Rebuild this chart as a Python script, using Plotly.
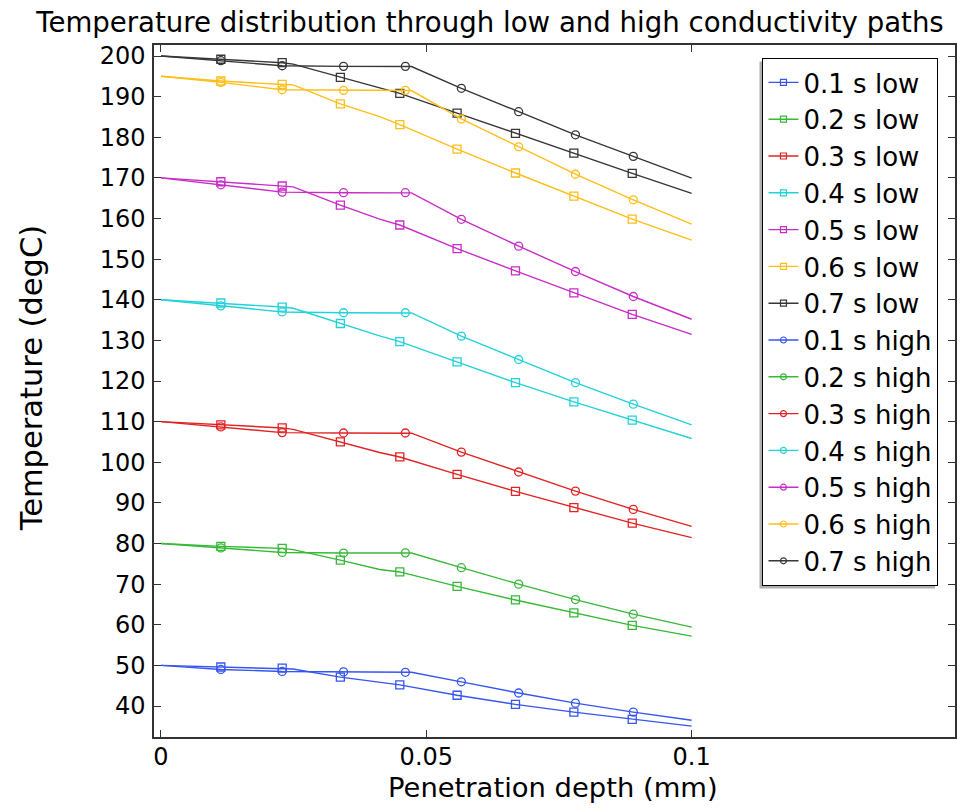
import plotly.graph_objects as go

# ---------------- data ----------------
times = ["0.1", "0.2", "0.3", "0.4", "0.5", "0.6", "0.7"]
colors = ["rgb(55,85,240)", "rgb(55,185,55)", "rgb(225,35,35)", "rgb(35,210,215)",
          "rgb(200,45,200)", "rgb(255,190,25)", "rgb(55,55,55)"]

# low conductivity path: sampled positions (mm)
x_low = [0.0, 0.01128, 0.02284, 0.0249, 0.0338, 0.0412, 0.0450, 0.0558, 0.0668, 0.0778, 0.0888, 0.1]
low_marker_idx = [1, 2, 4, 6, 7, 8, 9, 10]
y_low = {
    "0.1": [50.0, 49.6, 49.3, 49.1, 47.1, 45.8, 45.2, 42.65, 40.4, 38.5, 36.7, 35.05],
    "0.2": [80.0, 79.3, 78.8, 78.5, 75.9, 73.6, 73.0, 69.45, 66.1, 62.9, 59.85, 57.2],
    "0.3": [110.0, 109.2, 108.45, 108.1, 105.0, 102.4, 101.3, 97.0, 92.85, 88.85, 85.0, 81.45],
    "0.4": [140.0, 139.2, 138.2, 137.9, 134.15, 131.1, 129.7, 124.7, 119.6, 114.85, 110.35, 105.85],
    "0.5": [170.0, 169.05, 168.0, 167.8, 163.3, 159.85, 158.4, 152.6, 147.1, 141.7, 136.4, 131.5],
    "0.6": [195.0, 193.85, 193.0, 192.9, 188.2, 185.1, 183.1, 177.1, 171.2, 165.5, 159.85, 154.7],
    "0.7": [200.0, 199.2, 198.35, 198.0, 194.75, 192.1, 190.8, 185.96, 180.96, 176.1, 171.1, 166.2],
}

# high conductivity path
x_high = [0.0, 0.01128, 0.02284, 0.0344, 0.04605, 0.0472, 0.0566, 0.0674, 0.0781, 0.0890, 0.1]
high_marker_idx = [1, 2, 3, 4, 6, 7, 8, 9]
y_high = {
    "0.1": [50.0, 49.0, 48.5, 48.4, 48.3, 48.3, 45.95, 43.2, 40.7, 38.5, 36.5],
    "0.2": [80.0, 78.9, 77.8, 77.65, 77.7, 77.65, 74.05, 70.0, 66.2, 62.6, 59.4],
    "0.3": [110.0, 108.7, 107.3, 107.2, 107.2, 107.15, 102.5, 97.6, 92.9, 88.4, 84.2],
    "0.4": [140.0, 138.5, 137.0, 136.8, 136.8, 136.75, 131.05, 125.3, 119.6, 114.3, 109.2],
    "0.5": [170.0, 168.3, 166.5, 166.35, 166.35, 166.3, 159.8, 153.2, 146.95, 140.8, 135.2],
    "0.6": [195.0, 193.5, 191.7, 191.55, 191.55, 191.5, 184.5, 177.65, 170.9, 164.6, 158.6],
    "0.7": [200.0, 198.85, 197.6, 197.45, 197.45, 197.4, 192.05, 186.3, 180.6, 175.3, 169.95],
}

x_ticks = [0, 0.05, 0.1]
x_ticklabels = ["0", "0.05", "0.1"]
y_ticks = list(range(40, 201, 10))

title_text = "Temperature distribution through low and high conductivity paths"
x_title = "Penetration depth (mm)"
y_title = "Temperature (degC)"

# ---------------- layout geometry (pixels) ----------------
W, H = 957, 808
L, R, T, B = 154, 0, 45, 71
PW, PH = W - L - R, H - T - B
FONT = "DejaVu Sans"

def px_x(p):
    return (p - L) / PW

def px_y(p):
    return (H - B - p) / PH

fig = go.Figure()

def add_series(xs, ys, idx, color, symbol, group):
    fig.add_trace(go.Scatter(x=xs, y=ys, mode="lines", line=dict(color=color, width=1.4),
                             showlegend=False, legendgroup=group, hoverinfo="skip"))
    fig.add_trace(go.Scatter(x=[xs[i] for i in idx], y=[ys[i] for i in idx], mode="markers",
                             marker=dict(symbol=symbol, size=8, color=color,
                                         line=dict(color=color, width=1.3)),
                             showlegend=False, legendgroup=group))

for t, c in zip(times, colors):
    add_series(x_low, y_low[t], low_marker_idx, c, "square-open", "low" + t)
for t, c in zip(times, colors):
    add_series(x_high, y_high[t], high_marker_idx, c, "circle-open", "high" + t)

# legend entries
for t, c in zip(times, colors):
    fig.add_trace(go.Scatter(x=[None], y=[None], mode="lines+markers", name=t + " s low",
                             legendgroup="low" + t,
                             line=dict(color=c, width=1.4),
                             marker=dict(symbol="square-open", size=6, color=c, line=dict(color=c, width=1.2))))
for t, c in zip(times, colors):
    fig.add_trace(go.Scatter(x=[None], y=[None], mode="lines+markers", name=t + " s high",
                             legendgroup="high" + t,
                             line=dict(color=c, width=1.4),
                             marker=dict(symbol="circle-open", size=6, color=c, line=dict(color=c, width=1.2))))

axis_common = dict(showline=True, linecolor="#333333", linewidth=1.5, mirror="ticks",
                   ticks="inside", ticklen=7, tickwidth=1.2, tickcolor="#333333",
                   showgrid=False, zeroline=False,
                   tickfont=dict(family=FONT, size=24, color="black"))

fig.update_layout(
    width=W, height=H,
    margin=dict(l=L, r=R, t=T, b=B, pad=0),
    paper_bgcolor="white", plot_bgcolor="white",
    font=dict(family=FONT, color="black"),
    title=dict(text=title_text, x=490 / W, xanchor="center", xref="container",
               y=1 - 22 / H, yanchor="middle", yref="container",
               font=dict(family=FONT, size=27.6, color="black")),
    xaxis=dict(range=[-0.001316, 0.14962], tickvals=x_ticks, ticktext=x_ticklabels,
               ticklabelstandoff=-3, **axis_common),
    yaxis=dict(range=[32.37, 202.71], tickvals=y_ticks, ticklabelstandoff=2, **axis_common),
    legend=dict(x=px_x(764), y=px_y(58), xanchor="left", yanchor="top",
                bgcolor="white", bordercolor="black", borderwidth=1,
                font=dict(family=FONT, size=26, color="black"),
                tracegroupgap=0, itemclick=False),
    annotations=[
        dict(text=x_title, xref="paper", yref="paper", x=px_x(554), y=px_y(787),
             xanchor="center", yanchor="middle", showarrow=False,
             font=dict(family=FONT, size=27.4, color="black")),
        dict(text=y_title, xref="paper", yref="paper", x=px_x(31), y=px_y(378),
             xanchor="center", yanchor="middle", textangle=-90, showarrow=False,
             font=dict(family=FONT, size=30.5, color="black")),
    ],
    shapes=[
        dict(type="rect", xref="paper", yref="paper",
             x0=px_x(761), x1=px_x(937), y0=px_y(588.5), y1=px_y(61.5),
             fillcolor="#b0b0b0", line=dict(width=0), layer="above"),
    ],
    hovermode=False,
)

fig.write_html("out.html")
